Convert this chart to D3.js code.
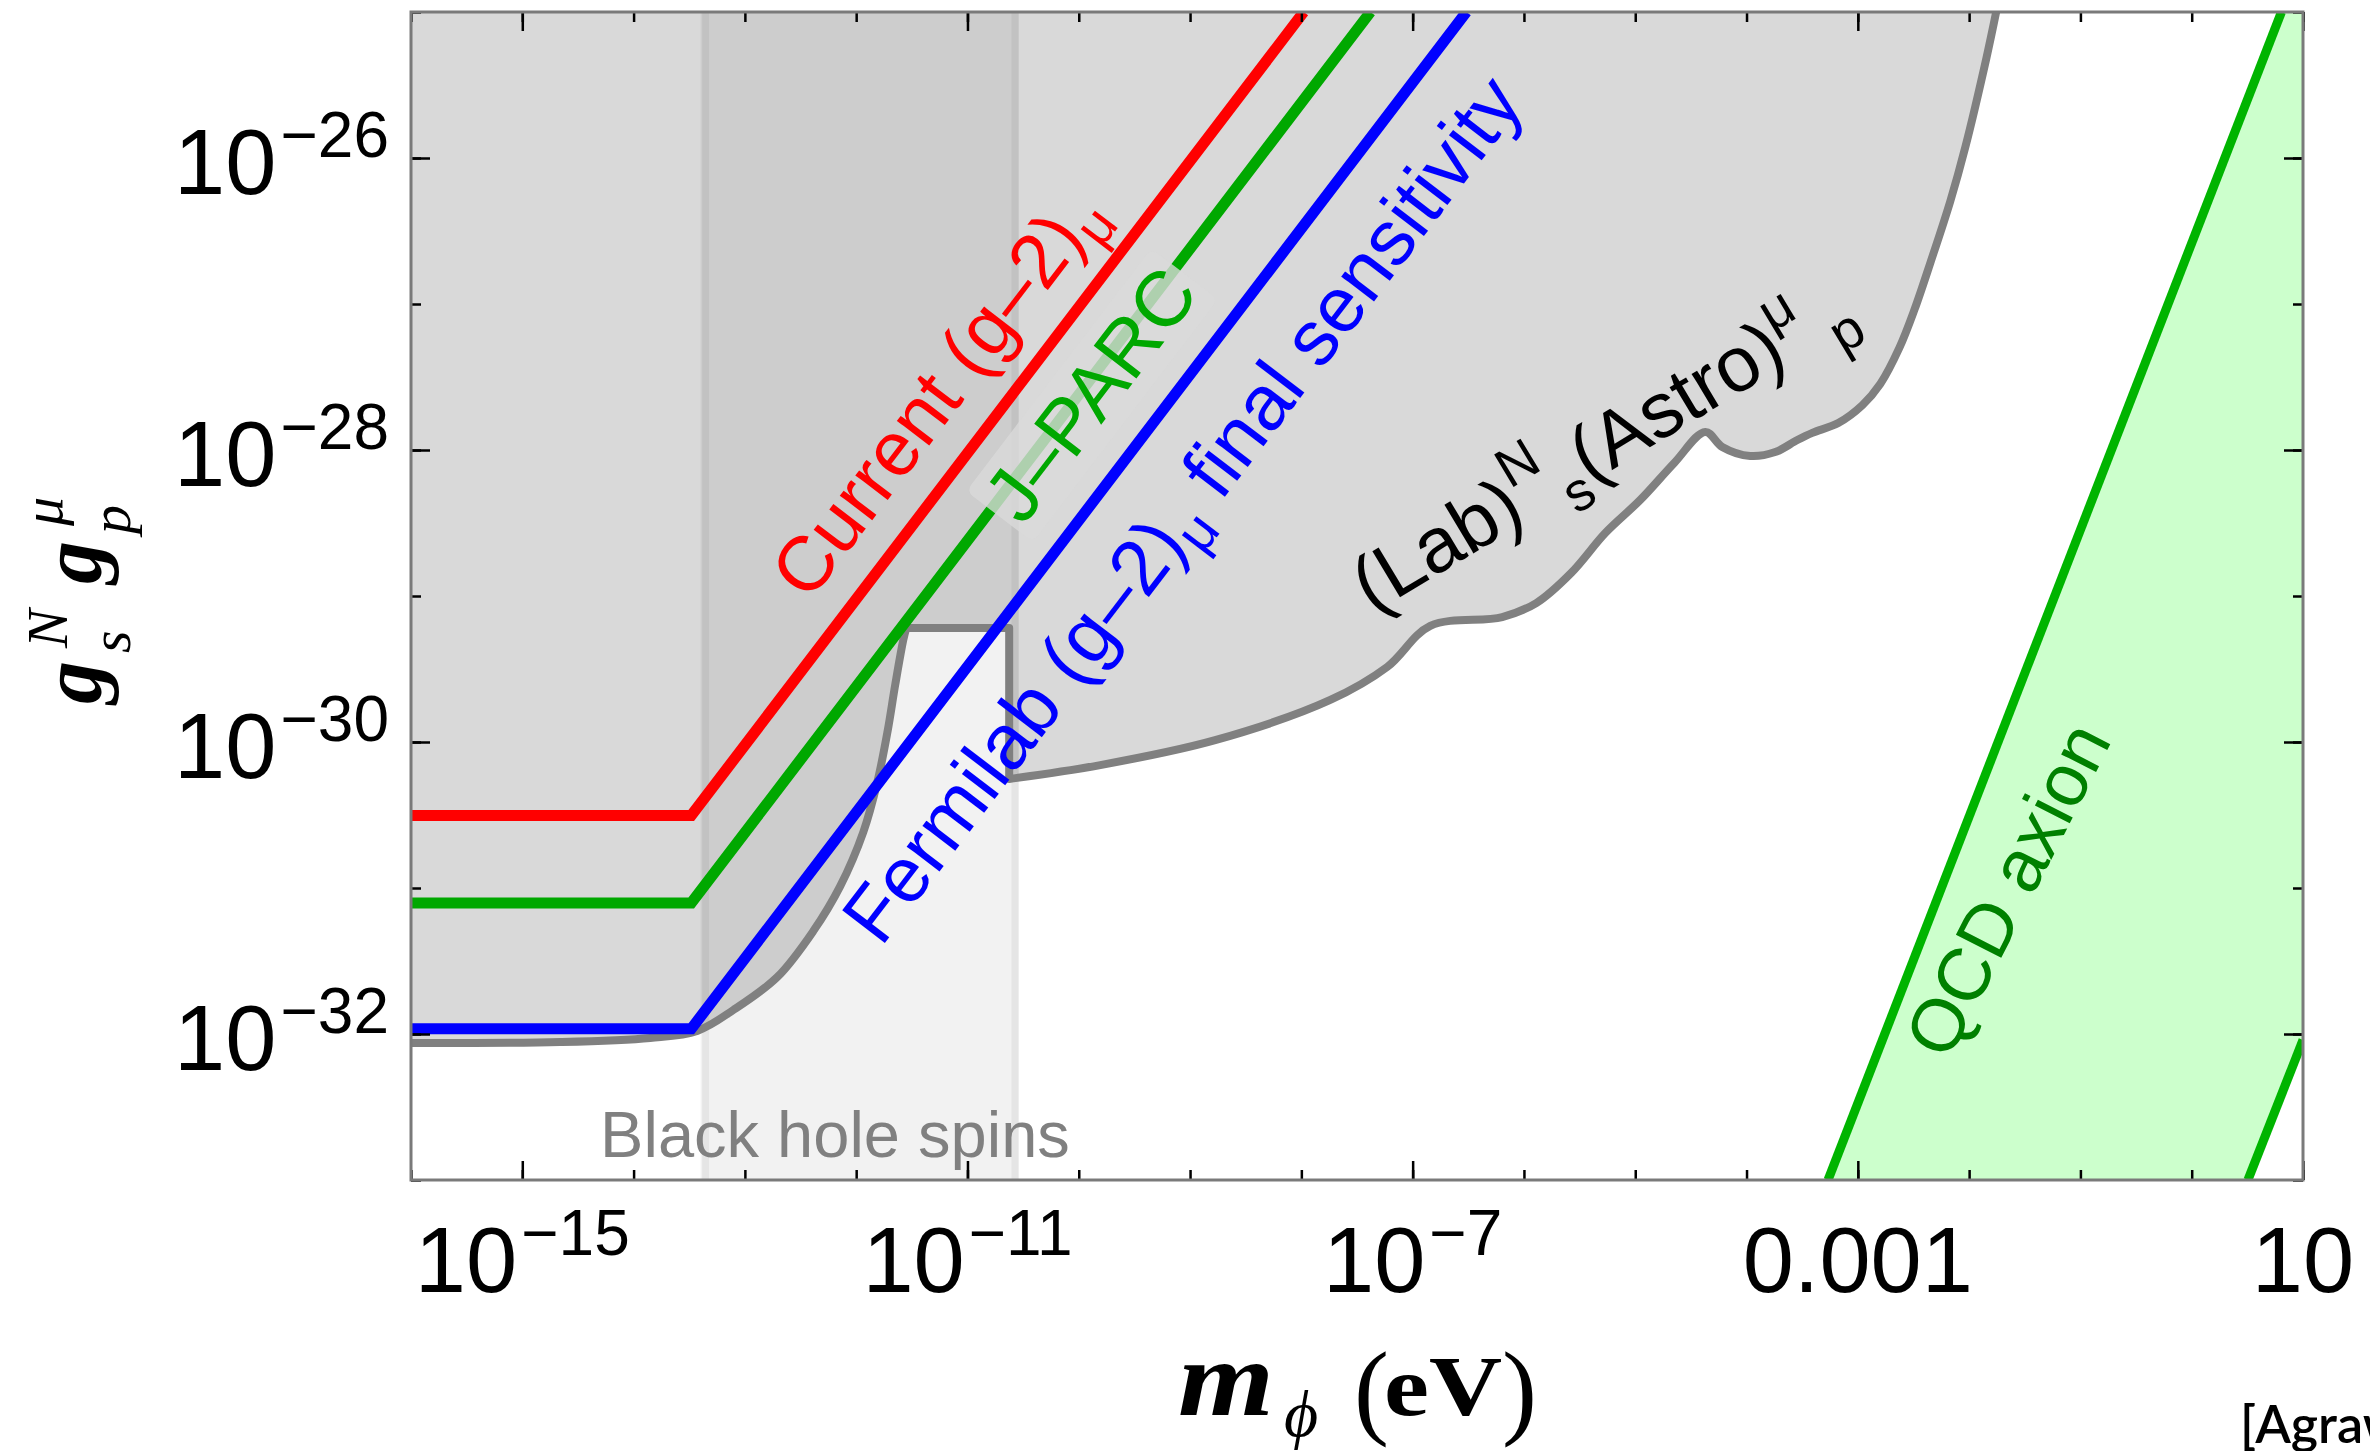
<!DOCTYPE html>
<html>
<head>
<meta charset="utf-8">
<script src="https://cdn.jsdelivr.net/npm/d3@7"></script>
<style>
  html, body { margin: 0; padding: 0; background: #fff; overflow: hidden; }
  svg { display: block; }
</style>
</head>
<body>
<div id="chart"></div>
<script>
// Axis ranges: scalar mass in eV, coupling product g_s^N g_p^mu
const massRange = [1e-16, 10];
const couplingRange = [1e-33, 1e-25];

// Labelled ticks
const massTickValues = [1e-15, 1e-11, 1e-7, 1e-3, 10];
const massTickBase = ["10", "10", "10", "0.001", "10"];
const massTickExp = ["−15", "−11", "−7", "", ""];
const couplingTickValues = [1e-26, 1e-28, 1e-30, 1e-32];
const couplingTickExp = ["−26", "−28", "−30", "−32"];

// Muon g-2 sensitivity lines, [mass, coupling]
const currentG2 = [[1e-16, 3.14e-31], [3.3e-14, 3.14e-31], [1.05e-8, 1e-25]];
const jparc = [[1e-16, 7.9e-32], [3.3e-14, 7.9e-32], [4.18e-8, 1e-25]];
const fermilabFinal = [[1e-16, 1.086e-32], [3.3e-14, 1.086e-32], [3.04e-7, 1e-25]];

// Lab x Astro excluded region, lower boundary, [mass, coupling]
const labAstroBoundary = [
  [1e-16, 8.67e-33], [2.19e-15, 8.81e-33], [1.41e-14, 9.40e-33], [3.73e-14, 1.05e-32],
  [7.87e-14, 1.46e-32], [1.95e-13, 2.45e-32], [4.12e-13, 5.07e-32], [7.19e-13, 1.03e-31],
  [1.16e-12, 2.42e-31], [1.55e-12, 5.32e-31], [1.91e-12, 1.17e-30], [2.24e-12, 2.45e-30],
  [2.65e-12, 5.00e-30], [2.82e-12, 6.04e-30], [2.37e-11, 6.04e-30], [2.37e-11, 5.58e-31],
  [1.56e-10, 6.95e-31], [1.68e-9, 1.03e-30], [1.82e-8, 1.94e-30], [5.92e-8, 3.27e-30],
  [1.44e-7, 6.24e-30], [6.38e-7, 7.18e-30], [1.29e-6, 8.95e-30], [2.66e-6, 1.44e-29],
  [5.38e-6, 2.70e-29], [1.11e-5, 4.55e-29], [2.24e-5, 8.15e-29], [4.26e-5, 1.33e-28],
  [6.05e-5, 1.05e-28], [1.08e-4, 9.10e-29], [1.81e-4, 9.68e-29], [2.86e-4, 1.17e-28],
  [3.90e-4, 1.31e-28], [6.67e-4, 1.53e-28], [1.10e-3, 2.03e-28], [1.59e-3, 2.83e-28],
  [2.36e-3, 5.00e-28], [3.22e-3, 9.10e-28], [4.48e-3, 1.91e-27], [6.78e-3, 5.07e-27],
  [9.25e-3, 1.19e-26], [1.43e-2, 4.84e-26], [1.75e-2, 1e-25]
];

// QCD axion band edges, [mass, coupling]
const qcdUpperEdge = [[5.4e-4, 1e-33], [6.4, 1e-25]];
const qcdLowerEdge = [[3.2, 1e-33], [10, 9.1e-33]];

// Black hole superradiance band (mass range, eV)
const blackHoleBand = [4.0e-14, 2.9e-11];

// Set up dimensions
const width = 2370;
const height = 1451;
const margin = { top: 12, right: 67, bottom: 271, left: 411 };
const plotW = width - margin.left - margin.right;
const plotH = height - margin.top - margin.bottom;

const sansFont = "'Liberation Sans', Arial, Helvetica, sans-serif";
const serifFont = "'Liberation Serif', 'Times New Roman', serif";

const svg = d3.select("#chart")
  .append("svg")
  .attr("width", width)
  .attr("height", height);

svg.append("rect")
  .attr("width", width)
  .attr("height", height)
  .attr("fill", "#fff");

const plot = svg.append("g")
  .attr("transform", `translate(${margin.left},${margin.top})`);

// Scales
const x = d3.scaleLog().domain(massRange).range([0, plotW]);
const y = d3.scaleLog().domain(couplingRange).range([plotH, 0]);

const line = d3.line().x(d => x(d[0])).y(d => y(d[1]));
const smoothLine = d3.line().x(d => x(d[0])).y(d => y(d[1])).curve(d3.curveCatmullRom.alpha(0.5));

plot.append("clipPath")
  .attr("id", "plot-clip")
  .append("rect")
  .attr("width", plotW)
  .attr("height", plotH);

const area = plot.append("g").attr("clip-path", "url(#plot-clip)");

// QCD axion band
const qcdPolygon = [
  ...qcdUpperEdge,
  [massRange[1], couplingRange[1]],
  ...qcdLowerEdge.slice().reverse()
];
area.append("path")
  .attr("d", line(qcdPolygon) + "Z")
  .attr("fill", "#ccffcc");

[qcdUpperEdge, qcdLowerEdge].forEach(edge => {
  area.append("path")
    .attr("d", line(edge))
    .attr("fill", "none")
    .attr("stroke", "#00b400")
    .attr("stroke-width", 9);
});

// Boundary path: smooth curves, with the sharp-cornered notch kept straight
const boundarySegments = [
  { pts: labAstroBoundary.slice(0, 14), gen: smoothLine },
  { pts: labAstroBoundary.slice(13, 16), gen: line },
  { pts: labAstroBoundary.slice(15), gen: smoothLine }
];
const boundaryD = boundarySegments
  .map((s, i) => {
    const d = s.gen(s.pts);
    return i === 0 ? d : "L" + d.slice(1);
  })
  .join("");

// Excluded region (Lab x Astro)
area.append("path")
  .attr("d", boundaryD + `L${x(massRange[0])},${y(couplingRange[1])}Z`)
  .attr("fill", "#d9d9d9");

// Black hole spins band (translucent overlay)
const bhLeft = x(blackHoleBand[0]);
const bhRight = x(blackHoleBand[1]);
area.append("rect")
  .attr("x", bhLeft)
  .attr("y", 0)
  .attr("width", bhRight - bhLeft)
  .attr("height", plotH)
  .attr("fill", "#000")
  .attr("fill-opacity", 0.05);

[bhLeft + 5, bhRight - 4].forEach(edgeX => {
  area.append("line")
    .attr("x1", edgeX)
    .attr("x2", edgeX)
    .attr("y1", 0)
    .attr("y2", plotH)
    .attr("stroke", "#000")
    .attr("stroke-opacity", 0.05)
    .attr("stroke-width", 7);
});

// Region boundary
area.append("path")
  .attr("d", boundaryD)
  .attr("fill", "none")
  .attr("stroke", "#808080")
  .attr("stroke-width", 8)
  .attr("stroke-linejoin", "round");

// Sensitivity lines
const g2Lines = [
  { data: currentG2, color: "#ff0000" },
  { data: jparc, color: "#00a800" },
  { data: fermilabFinal, color: "#0000ff" }
];
g2Lines.forEach(l => {
  area.append("path")
    .attr("d", line(l.data))
    .attr("fill", "none")
    .attr("stroke", l.color)
    .attr("stroke-width", 11);
});

// Helper: screen point on the diagonal part of a line, plus its angle
function alongLine(data, mass, offset) {
  const x1 = x(data[1][0]), y1 = y(data[1][1]);
  const x2 = x(data[2][0]), y2 = y(data[2][1]);
  const ang = Math.atan2(y2 - y1, x2 - x1);
  const px = x(mass);
  const py = y1 + (px - x1) * (y2 - y1) / (x2 - x1);
  return {
    px: px - Math.sin(ang) * offset,
    py: py + Math.cos(ang) * offset,
    angle: ang * 180 / Math.PI
  };
}

// Helper: rotated label made of tspans
function addLabel(parent, { px, py, angle, color, fontSize, parts, anchor = "middle", background = null }) {
  const g = parent.append("g")
    .attr("transform", `translate(${px},${py}) rotate(${angle})`);
  const text = g.append("text")
    .attr("text-anchor", anchor)
    .attr("font-family", sansFont)
    .attr("font-size", fontSize)
    .attr("fill", color);
  parts.forEach(p => {
    text.append("tspan")
      .attr("dx", p.dx || 0)
      .attr("dy", p.dy || 0)
      .attr("font-size", p.size || fontSize)
      .text(p.text);
  });
  if (background) {
    const bb = text.node().getBBox();
    g.insert("rect", "text")
      .attr("x", bb.x - 6)
      .attr("y", bb.y + 4)
      .attr("width", bb.width + 12)
      .attr("height", bb.height - 4)
      .attr("rx", 8)
      .attr("fill", background)
      .attr("fill-opacity", 0.8);
  }
  return g;
}

const labels = plot.append("g").attr("clip-path", "url(#plot-clip)");

addLabel(labels, {
  ...alongLine(currentG2, 1.45e-11, -35),
  color: "#ff0000",
  fontSize: 77,
  parts: [{ text: "Current (g–2)" }, { text: "μ", size: 54, dy: 18 }]
});

addLabel(labels, {
  ...alongLine(jparc, 1.1e-10, 36),
  color: "#00a800",
  fontSize: 78,
  background: "#d9d9d9",
  parts: [{ text: "J–PARC" }]
});

addLabel(labels, {
  ...alongLine(fermilabFinal, 2.46e-10, 102),
  color: "#0000ff",
  fontSize: 78,
  parts: [
    { text: "Fermilab (g–2)" },
    { text: "μ", size: 55, dy: 18 },
    { text: " final sensitivity", dy: -18 }
  ]
});

addLabel(labels, {
  px: x(4.34e-8),
  py: y(7.53e-30),
  angle: -31,
  anchor: "start",
  color: "#000",
  fontSize: 78,
  parts: [
    { text: "(Lab)" },
    { text: "N", size: 55, dy: -36 },
    { text: "s", size: 55, dx: 4, dy: 56 },
    { text: "(Astro)", dy: -20 },
    { text: "μ", size: 55, dy: -35 },
    { text: "p", size: 55, dx: 18, dy: 55 }
  ]
});

addLabel(labels, {
  px: x(0.0354),
  py: y(8.15e-32),
  angle: -63,
  color: "#008000",
  fontSize: 74,
  parts: [{ text: "QCD axion" }]
});

addLabel(labels, {
  px: x(5.0e-15),
  py: y(1.44e-33),
  angle: 0,
  anchor: "start",
  color: "#808080",
  fontSize: 65,
  parts: [{ text: "Black hole spins" }]
});

// Tick marks, pointing inward on all four sides
const massDecades = d3.range(-16, 2).map(e => Math.pow(10, e));
const couplingDecades = d3.range(-33, -24).map(e => Math.pow(10, e));

function drawTicks(axisFn, scale, values, size, transform) {
  plot.append("g")
    .attr("transform", transform)
    .call(axisFn(scale).tickValues(values).tickSize(-size).tickFormat(""))
    .call(a => a.select(".domain").remove())
    .call(a => a.selectAll(".tick line").attr("stroke", "#000").attr("stroke-width", 2.5));
}

drawTicks(d3.axisBottom, x, massDecades, 10, `translate(0,${plotH})`);
drawTicks(d3.axisBottom, x, massTickValues, 19, `translate(0,${plotH})`);
drawTicks(d3.axisTop, x, massDecades, 10, "translate(0,0)");
drawTicks(d3.axisTop, x, massTickValues, 19, "translate(0,0)");
drawTicks(d3.axisLeft, y, couplingDecades, 10, "translate(0,0)");
drawTicks(d3.axisLeft, y, couplingTickValues, 19, "translate(0,0)");
drawTicks(d3.axisRight, y, couplingDecades, 10, `translate(${plotW},0)`);
drawTicks(d3.axisRight, y, couplingTickValues, 19, `translate(${plotW},0)`);

// Frame
plot.append("rect")
  .attr("width", plotW)
  .attr("height", plotH)
  .attr("fill", "none")
  .attr("stroke", "#7a7a7a")
  .attr("stroke-width", 3);

// X tick labels
massTickValues.forEach((v, i) => {
  const t = plot.append("text")
    .attr("x", x(v))
    .attr("y", plotH + 112)
    .attr("text-anchor", "middle")
    .attr("font-family", sansFont)
    .attr("font-size", 92)
    .attr("fill", "#000");
  t.append("tspan").text(massTickBase[i]);
  if (massTickExp[i]) {
    t.append("tspan")
      .attr("dx", 4)
      .attr("dy", -37)
      .attr("font-size", 64)
      .text(massTickExp[i]);
  }
});

// Y tick labels
couplingTickValues.forEach((v, i) => {
  const t = plot.append("text")
    .attr("x", -22)
    .attr("y", y(v) + 36)
    .attr("text-anchor", "end")
    .attr("font-family", sansFont)
    .attr("font-size", 92)
    .attr("fill", "#000");
  t.append("tspan").text("10");
  t.append("tspan")
    .attr("dx", 4)
    .attr("dy", -37)
    .attr("font-size", 64)
    .text(couplingTickExp[i]);
});

// X axis title: m_phi (eV)
const xTitle = svg.append("g").attr("font-family", serifFont).attr("fill", "#000");
xTitle.append("text")
  .attr("x", 1178).attr("y", 1415)
  .attr("font-size", 108).attr("font-weight", "bold").attr("font-style", "italic")
  .attr("textLength", 96).attr("lengthAdjust", "spacingAndGlyphs")
  .text("m");
xTitle.append("text")
  .attr("x", 1284).attr("y", 1436)
  .attr("font-size", 66).attr("font-style", "italic")
  .text("ϕ");
xTitle.append("text")
  .attr("x", 1354).attr("y", 1425)
  .attr("font-size", 105)
  .text("(");
xTitle.append("text")
  .attr("x", 1384).attr("y", 1415)
  .attr("font-size", 84).attr("font-weight", "bold")
  .attr("textLength", 118).attr("lengthAdjust", "spacingAndGlyphs")
  .text("eV");
xTitle.append("text")
  .attr("x", 1502).attr("y", 1425)
  .attr("font-size", 105)
  .text(")");

// Y axis title: g_s^N g_p^mu
const yTitle = svg.append("g")
  .attr("transform", "translate(100,596) rotate(-90)")
  .attr("font-family", serifFont)
  .attr("fill", "#000");
const yParts = [
  { text: "g", x: -108, y: 0, size: 86, weight: "bold" },
  { text: "s", x: -57, y: 30, size: 58, weight: "normal" },
  { text: "N", x: -52, y: -33, size: 58, weight: "normal" },
  { text: "g", x: 12, y: 0, size: 86, weight: "bold" },
  { text: "p", x: 62, y: 30, size: 58, weight: "normal" },
  { text: "μ", x: 70, y: -38, size: 58, weight: "normal" }
];
yParts.forEach(p => {
  yTitle.append("text")
    .attr("x", p.x).attr("y", p.y)
    .attr("font-size", p.size)
    .attr("font-weight", p.weight)
    .attr("font-style", "italic")
    .text(p.text);
});

// Citation, cut off at the right edge as in the source figure
svg.append("text")
  .attr("x", 2240)
  .attr("y", 1443)
  .attr("font-family", "Lato, 'Open Sans', sans-serif")
  .attr("font-weight", 600)
  .attr("font-size", 52)
  .attr("fill", "#000")
  .text("[Agrawal et al.]");
</script>
</body>
</html>
